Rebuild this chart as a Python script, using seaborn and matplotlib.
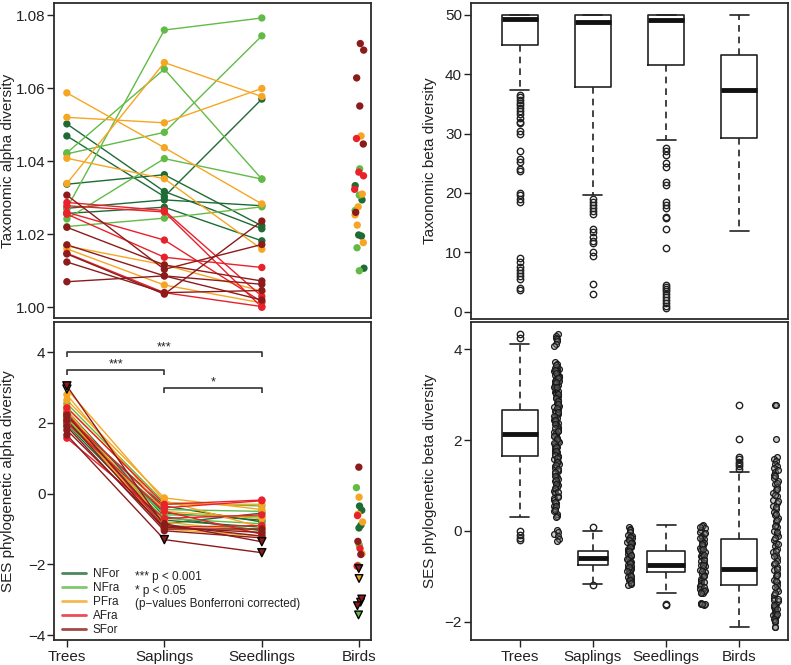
import numpy as np
import pandas as pd
import matplotlib
matplotlib.use("Agg")
import matplotlib.pyplot as plt
from matplotlib.lines import Line2D
import seaborn as sns

# ---------------- data ----------------
STAGES = ["Trees", "Saplings", "Seedlings", "Birds"]
GROUPS = ["NFor", "NFra", "PFra", "AFra", "SFor"]
COLORS = ["#1f6b35", "#62bb47", "#f6a623", "#e8212b", "#8c1b1b"]

# Taxonomic alpha diversity per site: (Trees, Saplings, Seedlings)
NFOR_TAX = [(1.0502, 1.0317, 1.0215), (1.0469, 1.0303, 1.0570), (1.0337, 1.0363, 1.0223),
            (1.0271, 1.0294, 1.0278), (1.0257, 1.0274, 1.0182)]
NFRA_TAX = [(1.0271, 1.0759, 1.0792), (1.0423, 1.0652, 1.0351), (1.0420, 1.0479, 1.0743),
            (1.0242, 1.0407, 1.0351), (1.0221, 1.0244, 1.0275)]
PFRA_TAX = [(1.0587, 1.0437, 1.0283), (1.0520, 1.0505, 1.0599), (1.0408, 1.0352, 1.0159),
            (1.0339, 1.0670, 1.0577), (1.0168, 1.0116, 1.0044), (1.0160, 1.0061, 1.0012)]
AFRA_TAX = [(1.0287, 1.0265, 1.0030), (1.0278, 1.0261, 1.0000), (1.0260, 1.0184, 1.0015),
            (1.0255, 1.0137, 1.0109), (1.0148, 1.0040, 1.0002)]
SFOR_TAX = [(1.0307, 1.0104, 1.0172), (1.0219, 1.0116, 1.0072), (1.0171, 1.0086, 1.0063),
            (1.0146, 1.0036, 1.0236), (1.0124, 1.0040, 1.0046), (1.0070, 1.0086, 1.0020)]

BIRDS_TAX_NFOR = [1.0333, 1.0294, 1.0198, 1.0195, 1.0107]
BIRDS_TAX_NFRA = [1.0379, 1.0307, 1.0265, 1.0163, 1.0100]
BIRDS_TAX_PFRA = [1.0469, 1.0310, 1.0275, 1.0253, 1.0225, 1.0177]
BIRDS_TAX_AFRA = [1.0462, 1.0370, 1.0360, 1.0323]
BIRDS_TAX_SFOR = [1.0722, 1.0704, 1.0628, 1.0551, 1.0447, 1.0260]

# SES phylogenetic alpha diversity per site: (Trees, Saplings, Seedlings)
NFOR_SES = [(2.05, -0.55, -0.75), (2.25, -0.75, -0.95), (1.95, -0.85, -0.55),
            (2.15, -0.35, -0.80), (2.35, -0.65, -1.05)]
NFRA_SES = [(1.95, -0.45, -0.50), (2.10, -0.60, -0.65), (2.30, -0.90, -1.00),
            (2.55, -0.25, -0.35), (2.00, -0.70, -0.85)]
PFRA_SES = [(2.65, -0.12, -0.45), (2.45, -0.30, -0.30), (2.96, -0.20, -0.95),
            (2.20, -1.00, -1.20), (2.80, -0.50, -0.70), (2.35, -0.80, -1.10)]
AFRA_SES = [(2.43, -0.30, -0.18), (2.18, -0.40, -0.20), (1.57, -0.70, -0.60),
            (2.00, -0.50, -1.15), (2.28, -0.95, -0.90)]
SFOR_SES = [(3.05, -0.90, -1.20), (2.22, -0.85, -1.36), (2.08, -1.00, -1.00),
            (1.80, -0.95, -1.10), (1.66, -1.30, -1.67), (1.90, -1.05, -1.25)]
# significance flag per stage: "o" = circle, "v" = triangle
NFOR_SES_SIG = ["ooo"] * 5
NFRA_SES_SIG = ["ooo"] * 5
PFRA_SES_SIG = ["ooo", "ooo", "voo", "ooo", "ooo", "ooo"]
AFRA_SES_SIG = ["ooo"] * 5
SFOR_SES_SIG = ["voo", "oov", "ooo", "ooo", "ovv", "ooo"]

BIRDS_SES_NFOR = [-0.35, -0.47, -0.89, -0.97]
BIRDS_SES_NFRA = [0.17, -1.45, -2.03, -3.43]
BIRDS_SES_PFRA = [-0.10, -0.58, -0.80, -1.70, -2.40]
BIRDS_SES_AFRA = [-0.62, -1.55, -2.05, -3.07]
BIRDS_SES_SFOR = [0.75, -1.35, -1.72, -2.12, -2.98, -3.17]
BIRDS_SES_NFOR_SIG = "oooo"
BIRDS_SES_NFRA_SIG = "ooov"
BIRDS_SES_PFRA_SIG = "oooov"
BIRDS_SES_AFRA_SIG = "ooov"
BIRDS_SES_SFOR_SIG = "ooovvv"

# Taxonomic beta diversity box statistics (Trees, Saplings, Seedlings, Birds)
TB_Q1 = [45.0, 37.8, 41.6, 29.2]
TB_MED = [49.3, 48.8, 49.1, 37.3]
TB_Q3 = [50.0, 50.0, 50.0, 43.2]
TB_WLO = [37.3, 19.7, 29.0, 13.6]
TB_WHI = [50.0, 50.0, 50.0, 50.0]
TB_OUT_TREES = [36.5, 36.1, 35.6, 35.2, 34.8, 34.3, 33.8, 33.3, 32.6, 32.0, 31.8, 30.5, 30.0,
                27.0, 25.8, 25.3, 24.0, 23.7, 20.0, 19.6, 19.0, 18.4, 9.0, 8.4, 7.5, 7.0,
                6.5, 6.0, 5.5, 4.0, 3.7]
TB_OUT_SAPLINGS = [19.0, 18.5, 18.0, 17.4, 17.0, 16.4, 14.0, 13.4, 12.5, 11.9, 11.5, 10.0,
                   9.4, 4.7, 2.9]
TB_OUT_SEEDLINGS = [27.5, 27.0, 26.4, 25.0, 24.4, 21.9, 21.4, 18.5, 18.0, 17.4, 16.0, 15.8,
                    14.0, 10.7, 4.5, 4.2, 3.9, 3.5, 3.0, 2.5, 2.0, 1.5, 1.0, 0.7]
TB_OUT_BIRDS = []

# SES phylogenetic beta diversity box statistics
PB_Q1 = [1.64, -0.75, -0.90, -1.20]
PB_MED = [2.13, -0.60, -0.75, -0.83]
PB_Q3 = [2.66, -0.45, -0.45, -0.18]
PB_WLO = [0.30, -1.17, -1.37, -2.12]
PB_WHI = [4.12, 0.00, 0.13, 1.29]
PB_OUT_TREES = [4.33, 4.25, 0.00, -0.08, -0.15, -0.20]
PB_OUT_SAPLINGS = [0.08, -1.20]
PB_OUT_SEEDLINGS = [-1.60, -1.63]
PB_OUT_BIRDS = [2.77, 2.02, 1.62, 1.58, 1.52, 1.47, 1.42, 1.37]

# SES phylogenetic beta diversity raw values (strip columns)
PB_PTS_TREES = [4.33, 4.30, 4.25, 4.22, 4.18, 4.12, 4.08,
                3.73, 3.68, 3.62, 3.60, 3.57, 3.55, 3.52, 3.50, 3.47, 3.44, 3.42, 3.40, 3.37,
                3.35, 3.33, 3.30, 3.28, 3.25, 3.22, 3.20, 3.17, 3.14, 3.12, 3.10, 3.07, 3.04,
                3.02, 3.00, 2.97, 2.95, 2.92, 2.88, 2.85, 2.82, 2.78, 2.75, 2.72, 2.68, 2.65,
                2.61, 2.58, 2.55, 2.51, 2.48, 2.45, 2.41, 2.38, 2.35, 2.31, 2.28, 2.25, 2.21,
                2.18, 2.15, 2.11, 2.08, 2.05, 2.01, 1.98, 1.95, 1.91, 1.88, 1.84, 1.80, 1.77,
                1.73, 1.70, 1.66, 1.62, 1.58, 1.55, 1.51, 1.47, 1.43, 1.39, 1.35, 1.31, 1.27,
                1.22, 1.18, 1.14, 1.10, 1.05, 1.01, 0.96, 0.92, 0.87, 0.83, 0.78, 0.73, 0.68,
                0.62, 0.56, 0.50, 0.44, 0.38, 0.33, 0.30,
                3.58, 3.52, 3.46, 3.38, 3.31, 3.24, 3.16, 3.08, 3.01, 2.93, 2.86, 2.79, 2.70,
                2.62, 2.53, 2.44, 2.36, 2.27, 2.19, 2.10, 2.02, 1.93, 1.85, 1.76, 1.68, 1.60,
                1.52, 1.45, 1.37, 1.29, 1.20, 1.12, 1.03, 0.95, 0.85, 0.75, 0.64, 0.54, 0.46,
                3.65, 3.55, 3.48, 3.36, 3.27, 3.18,
                0.03, -0.02, -0.06, -0.12, -0.17, -0.22]
PB_PTS_SAPLINGS = [0.08, 0.05, 0.02, -0.03, -0.08, -0.12, -0.15, -0.18, -0.21, -0.24, -0.27,
                   -0.30, -0.33, -0.36, -0.39, -0.42, -0.45, -0.48, -0.51, -0.54, -0.57, -0.60,
                   -0.63, -0.66, -0.69, -0.72, -0.75, -0.78, -0.81, -0.84, -0.87, -0.90, -0.93,
                   -0.97, -1.01, -1.05, -1.09, -1.13, -1.17, -1.20,
                   -0.14, -0.20, -0.26, -0.35, -0.44, -0.53, -0.62, -0.71, -0.80, -0.89,
                   -0.99, -1.07, -1.15]
PB_PTS_SEEDLINGS = [0.13, 0.10, 0.06, 0.02, -0.02, -0.06, -0.10, -0.14, -0.18, -0.22, -0.26,
                    -0.30, -0.34, -0.38, -0.42, -0.46, -0.50, -0.54, -0.58, -0.62, -0.66,
                    -0.70, -0.74, -0.78, -0.82, -0.86, -0.90, -0.94, -0.98, -1.02, -1.06,
                    -1.10, -1.14, -1.18, -1.22, -1.27, -1.31, -1.35, -1.37, -1.58, -1.60,
                    -1.62, -1.60, -1.61,
                    0.08, -0.04, -0.16, -0.28, -0.40, -0.52, -0.64, -0.76, -0.88, -1.00,
                    -1.12, -1.24, -1.33, -1.36]
PB_PTS_BIRDS = [2.77, 2.77, 2.02, 1.62, 1.58, 1.53, 1.48, 1.43, 1.38, 1.30, 1.24, 1.17, 1.10,
                1.03, 0.96, 0.90, 0.83, 0.76, 0.69, 0.62, 0.55, 0.48, 0.41, 0.35, 0.28, 0.21,
                0.14, 0.08, 0.01, -0.06, -0.12, -0.19, -0.26, -0.33, -0.39, -0.46, -0.53,
                -0.60, -0.66, -0.73, -0.80, -0.86, -0.93, -1.00, -1.07, -1.13, -1.20, -1.27,
                -1.33, -1.40, -1.47, -1.53, -1.60, -1.65, -1.70, -1.75, -1.80, -1.85, -1.90,
                -1.95, -2.00, -1.55, -1.68, -1.78, -1.88, -2.12, -2.12,
                1.34, 1.20, 1.06, 0.93, 0.79, 0.66, 0.52, 0.38, 0.24, 0.11, -0.03, -0.16,
                -0.29, -0.43, -0.56, -0.70, -0.83, -0.96, -1.10, -1.23, -1.37, -1.50,
                -1.63, -1.72, -1.83, -1.93, -1.98]

SIG_TEXT = ["*** p < 0.001", "* p < 0.05", "(p\u2212values Bonferroni corrected)"]

# ---------------- build tables ----------------
PAL = dict(zip(GROUPS, COLORS))
TAX_SITES = dict(zip(GROUPS, [NFOR_TAX, NFRA_TAX, PFRA_TAX, AFRA_TAX, SFOR_TAX]))
SES_SITES = dict(zip(GROUPS, [NFOR_SES, NFRA_SES, PFRA_SES, AFRA_SES, SFOR_SES]))
SES_SIGS = dict(zip(GROUPS, [NFOR_SES_SIG, NFRA_SES_SIG, PFRA_SES_SIG, AFRA_SES_SIG, SFOR_SES_SIG]))
TAX_BIRDS = dict(zip(GROUPS, [BIRDS_TAX_NFOR, BIRDS_TAX_NFRA, BIRDS_TAX_PFRA, BIRDS_TAX_AFRA, BIRDS_TAX_SFOR]))
SES_BIRDS = dict(zip(GROUPS, [BIRDS_SES_NFOR, BIRDS_SES_NFRA, BIRDS_SES_PFRA, BIRDS_SES_AFRA, BIRDS_SES_SFOR]))
SES_BIRDS_SIG = dict(zip(GROUPS, [BIRDS_SES_NFOR_SIG, BIRDS_SES_NFRA_SIG, BIRDS_SES_PFRA_SIG,
                                   BIRDS_SES_AFRA_SIG, BIRDS_SES_SFOR_SIG]))


def site_table(sites, sigs=None):
    rows = []
    for g in GROUPS:
        for i, vals in enumerate(sites[g]):
            for j, v in enumerate(vals):
                m = sigs[g][i][j] if sigs else "o"
                rows.append(dict(group=g, site=f"{g}{i}", x=j + 1, value=v, mark=m))
    return pd.DataFrame(rows)


def bird_table(birds, sigs=None):
    rows = []
    for g in GROUPS:
        for i, v in enumerate(birds[g]):
            m = sigs[g][i] if sigs else "o"
            rows.append(dict(group=g, x=4, value=v, mark=m))
    return pd.DataFrame(rows)


tax_df = site_table(TAX_SITES)
ses_df = site_table(SES_SITES, SES_SIGS)
tax_birds = bird_table(TAX_BIRDS)
ses_birds = bird_table(SES_BIRDS, SES_BIRDS_SIG)

# ---------------- style ----------------
sns.set_theme(style="white")
plt.rcParams["font.family"] = ["Liberation Sans", "DejaVu Sans"]
plt.rcParams["axes.edgecolor"] = "#2b2b2b"
plt.rcParams["axes.linewidth"] = 1.3
np.random.seed(7)

W, H = 791, 665
fig = plt.figure(figsize=(W / 100, H / 100), dpi=100)


def rect(x0, y0, x1, y1):
    return [x0 / W, (H - y1) / H, (x1 - x0) / W, (y1 - y0) / H]


ax_tl = fig.add_axes(rect(54.5, 3, 371, 318))
ax_bl = fig.add_axes(rect(54.5, 322, 371, 640))
ax_tr = fig.add_axes(rect(471, 3, 788, 319))
ax_br = fig.add_axes(rect(471, 322, 788, 640))

TICKFS = 11
TXT = "#222222"
for ax in (ax_tl, ax_bl, ax_tr, ax_br):
    ax.tick_params(axis="both", direction="out", length=5, width=1.0, color=TXT,
                   labelsize=TICKFS, labelcolor=TXT, left=True, bottom=True)
    ax.tick_params(axis="y", pad=1.5)
    ax.tick_params(axis="x", pad=2.5)
    for s in ax.spines.values():
        s.set_color("#2b2b2b")
        s.set_linewidth(1.3)


def draw_alpha(ax, df, birds):
    sns.lineplot(data=df, x="x", y="value", hue="group", units="site", estimator=None,
                 palette=PAL, linewidth=1.0, legend=False, sort=False, ax=ax)
    circ = df[df["mark"] == "o"]
    tri = df[df["mark"] == "v"]
    sns.scatterplot(data=circ, x="x", y="value", hue="group", palette=PAL, s=28,
                    linewidth=0, legend=False, ax=ax, zorder=3)
    if len(tri):
        sns.scatterplot(data=tri, x="x", y="value", hue="group", palette=PAL, s=34,
                        marker="v", edgecolor="black", linewidth=1.0, legend=False,
                        ax=ax, zorder=4)
    bc = birds[birds["mark"] == "o"]
    bt = birds[birds["mark"] == "v"]
    sns.stripplot(data=bc, x="x", y="value", hue="group", palette=PAL, native_scale=True,
                  jitter=0.05, size=5.3, linewidth=0, legend=False, ax=ax, zorder=3)
    if len(bt):
        sns.stripplot(data=bt, x="x", y="value", hue="group", palette=PAL, native_scale=True,
                      jitter=0.03, size=5.5, marker="v", edgecolor="black", linewidth=1.0,
                      legend=False, ax=ax, zorder=4)
    ax.set_xlim(0.873, 4.12)
    ax.set_xlabel("")


# ---- top-left ----
draw_alpha(ax_tl, tax_df, tax_birds)
ax_tl.set_ylim(0.99707, 1.0833)
ax_tl.set_yticks([1.00, 1.02, 1.04, 1.06, 1.08])
ax_tl.set_yticklabels([f"{v:.2f}" for v in [1.00, 1.02, 1.04, 1.06, 1.08]])
ax_tl.tick_params(axis="x", bottom=False, labelbottom=False)
ax_tl.set_ylabel("Taxonomic alpha diversity", fontsize=TICKFS, color=TXT)
ax_tl.yaxis.set_label_coords(-0.124, 0.5)

# ---- bottom-left ----
draw_alpha(ax_bl, ses_df, ses_birds)
ax_bl.set_ylim(-4.14, 4.857)
ax_bl.set_yticks([-4, -2, 0, 2, 4])
ax_bl.set_xticks([1, 2, 3, 4])
ax_bl.set_xticklabels(STAGES)
ax_bl.set_ylabel("SES phylogenetic alpha diversity", fontsize=TICKFS, color=TXT)
ax_bl.yaxis.set_label_coords(-0.124, 0.5)

# significance brackets
for (x0, x1, y, lab) in [(1, 3, 4.0, "***"), (1, 2, 3.5, "***"), (2, 3, 2.99, "*")]:
    ax_bl.plot([x0, x0, x1, x1], [y - 0.13, y, y, y - 0.13], color="#333333", lw=1.2,
               solid_capstyle="butt")
    ax_bl.text((x0 + x1) / 2, y - 0.02, lab, ha="center", va="bottom", fontsize=9,
               color=TXT)

handles = [Line2D([0], [0], color=c, lw=2.0, alpha=0.8) for c in COLORS]
ax_bl.legend(handles, GROUPS, loc="upper left", bbox_to_anchor=(0.025, 0.225),
             frameon=False, fontsize=8.5, handlelength=2.0, handletextpad=0.55,
             labelspacing=0.16, borderpad=0, borderaxespad=0, labelcolor=TXT)
for i, t in enumerate(SIG_TEXT):
    ax_bl.text(1.70, -2.36 - 0.385 * i, t, ha="left", va="center", fontsize=8.5,
               color=TXT)

# ---- box plots ----
BOXPROPS = dict(
    boxprops=dict(color="#222222", linewidth=1.2),
    whiskerprops=dict(color="#222222", linewidth=1.2, linestyle=(0, (4, 3))),
    capprops=dict(color="#222222", linewidth=1.2),
    medianprops=dict(color="#111111", linewidth=3.5, solid_capstyle="butt"),
    flierprops=dict(marker="o", markerfacecolor="none", markeredgecolor="#222222",
                    markersize=4.6, markeredgewidth=1.0),
)


def box_stats(q1, med, q3, wlo, whi, outs):
    return [dict(q1=a, med=b, q3=c, whislo=d, whishi=e, fliers=f)
            for a, b, c, d, e, f in zip(q1, med, q3, wlo, whi, outs)]


tb_stats = box_stats(TB_Q1, TB_MED, TB_Q3, TB_WLO, TB_WHI,
                     [TB_OUT_TREES, TB_OUT_SAPLINGS, TB_OUT_SEEDLINGS, TB_OUT_BIRDS])
ax_tr.bxp(tb_stats, positions=[1, 2, 3, 4], widths=0.5, capwidths=0.26,
          manage_ticks=False, **BOXPROPS)
ax_tr.set_xlim(0.33, 4.67)
ax_tr.set_ylim(-1.23, 52.0)
ax_tr.set_yticks([0, 10, 20, 30, 40, 50])
ax_tr.tick_params(axis="x", bottom=False, labelbottom=False)
ax_tr.set_ylabel("Taxonomic beta diversity", fontsize=TICKFS, color=TXT)
ax_tr.yaxis.set_label_coords(-0.107, 0.5)

pb_stats = box_stats(PB_Q1, PB_MED, PB_Q3, PB_WLO, PB_WHI,
                     [PB_OUT_TREES, PB_OUT_SAPLINGS, PB_OUT_SEEDLINGS, PB_OUT_BIRDS])
ax_br.bxp(pb_stats, positions=[1, 2, 3, 4], widths=[0.5, 0.41, 0.52, 0.5], capwidths=0.26,
          manage_ticks=False, **BOXPROPS)

strip_df = pd.concat([
    pd.DataFrame(dict(x=1.5, value=PB_PTS_TREES)),
    pd.DataFrame(dict(x=2.5, value=PB_PTS_SAPLINGS)),
    pd.DataFrame(dict(x=3.5, value=PB_PTS_SEEDLINGS)),
    pd.DataFrame(dict(x=4.5, value=PB_PTS_BIRDS)),
], ignore_index=True)
sns.stripplot(data=strip_df, x="x", y="value", native_scale=True, jitter=0.032,
              color="#bdbdbd", edgecolor="#1a1a1a", linewidth=0.9, size=4.2,
              legend=False, ax=ax_br, zorder=3)
for coll in ax_br.collections:
    coll.set_facecolor((0.5, 0.5, 0.5, 0.4))

ax_br.set_xlim(0.33, 4.67)
ax_br.set_ylim(-2.40, 4.6)
ax_br.set_yticks([-2, 0, 2, 4])
ax_br.set_xticks([1, 2, 3, 4])
ax_br.set_xticklabels(STAGES)
ax_br.set_xlabel("")
ax_br.set_ylabel("SES phylogenetic beta diversity", fontsize=TICKFS, color=TXT)
ax_br.yaxis.set_label_coords(-0.107, 0.5)

fig.savefig("out.png", dpi=100)
